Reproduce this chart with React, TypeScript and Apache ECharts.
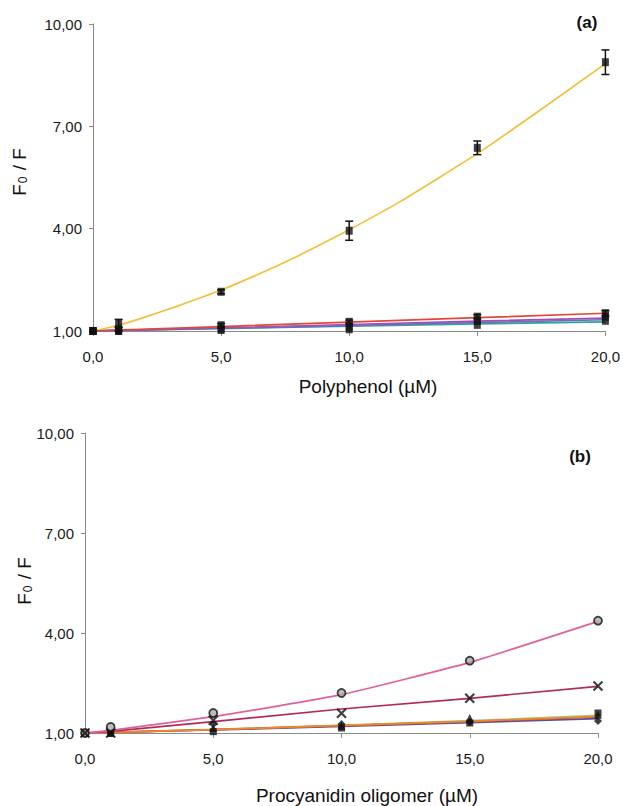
import React, { useEffect, useRef } from "react";
import * as echarts from "echarts";

const xValues = [0, 1, 5, 10, 15, 20];
const yTicks = [1, 4, 7, 10];

// Panel (a)
const aYellowPts = [1.0, 1.22, 2.15, 3.94, 6.37, 8.88];
const aYellowErr = [0.03, 0.12, 0.06, 0.28, 0.2, 0.36];
const aYellowFitX = [0, 1, 2, 3.3, 5, 6.5, 8, 10, 12, 15, 17.5, 20];
const aYellowFitY = [1.0, 1.17, 1.4, 1.73, 2.2, 2.68, 3.2, 3.97, 4.8, 6.2, 7.5, 8.84];
const aRedFit = [1.0, 1.03, 1.13, 1.26, 1.39, 1.52];
const aPurpleFit = [1.0, 1.02, 1.09, 1.19, 1.29, 1.38];
const aBlueFit = [1.0, 1.02, 1.08, 1.16, 1.25, 1.33];
const aGreenFit = [1.0, 1.02, 1.07, 1.14, 1.21, 1.27];
const aLowPts1 = [1.0, 1.05, 1.17, 1.27, 1.42, 1.52];
const aLowPts2 = [1.0, 1.0, 1.07, 1.12, 1.3, 1.42];
const aLowPts3 = [1.0, 1.0, 1.03, 1.05, 1.18, 1.3];
const aLowErr = [0.02, 0.06, 0.05, 0.05, 0.06, 0.08];

// Panel (b)
const bPinkPts = [1.0, 1.18, 1.6, 2.2, 3.17, 4.37];
const bPinkFit = [1.0, 1.08, 1.49, 2.15, 3.12, 4.35];
const bCrimsonPts = [1.0, 1.0, 1.38, 1.59, 2.04, 2.41];
const bCrimsonFit = [1.0, 1.05, 1.34, 1.72, 2.04, 2.4];
const bOrangeFit = [1.0, 1.02, 1.1, 1.23, 1.35, 1.5];
const bRedFit = [1.0, 1.02, 1.1, 1.22, 1.34, 1.48];
const bBlueFit = [1.0, 1.02, 1.09, 1.2, 1.31, 1.43];
const bGreenFit = [1.0, 1.02, 1.11, 1.23, 1.37, 1.53];
const bTrianglePts = [1.0, 1.0, 1.15, 1.22, 1.45, 1.55];
const bSquarePts = [1.0, 1.0, 1.04, 1.15, 1.3, 1.6];
const bDiamondPts = [1.0, 1.0, 1.26, 1.27, 1.33, 1.36];

const pair = (ys: number[], xs: number[] = xValues) => xs.map((x, i) => [x, ys[i]]);

const fmtY = (v: number) => v.toFixed(2).replace(".", ",");
const fmtX = (v: number) => v.toFixed(1).replace(".", ",");

const FONT = "Liberation Sans, Arial, sans-serif";
const axisColor = "#8a8a8a";
const labelStyle = { color: "#1a1a1a", fontSize: 15, fontFamily: FONT };

function lineSeries(data: number[][], color: string, grid: number, smooth: boolean | number = false) {
  return {
    type: "line",
    xAxisIndex: grid,
    yAxisIndex: grid,
    data,
    smooth,
    showSymbol: false,
    symbol: "none",
    lineStyle: { color, width: 1.7 },
    z: 2,
  };
}

function pointSeries(ys: number[], grid: number, symbol: string, size: number | number[], extra: any = {}) {
  return {
    type: "scatter",
    xAxisIndex: grid,
    yAxisIndex: grid,
    data: pair(ys),
    symbol,
    symbolSize: size,
    itemStyle: { color: "#111", ...extra },
    z: 4,
  };
}

function errorSeries(ys: number[], errs: number[], grid: number) {
  return {
    type: "custom",
    xAxisIndex: grid,
    yAxisIndex: grid,
    data: xValues.map((x, i) => [x, ys[i] - errs[i], ys[i] + errs[i]]),
    renderItem: (params: any, api: any) => {
      const lo = api.coord([api.value(0), api.value(1)]);
      const hi = api.coord([api.value(0), api.value(2)]);
      const w = 4;
      const st = { stroke: "#111", lineWidth: 1.5 };
      return {
        type: "group",
        children: [
          { type: "line", shape: { x1: lo[0], y1: lo[1], x2: hi[0], y2: hi[1] }, style: st },
          { type: "line", shape: { x1: lo[0] - w, y1: lo[1], x2: lo[0] + w, y2: lo[1] }, style: st },
          { type: "line", shape: { x1: hi[0] - w, y1: hi[1], x2: hi[0] + w, y2: hi[1] }, style: st },
        ],
      };
    },
    z: 5,
  };
}

function xAxis(grid: number) {
  return {
    type: "value",
    gridIndex: grid,
    min: 0,
    max: 20,
    interval: 5,
    axisLine: { lineStyle: { color: axisColor, width: 1 } },
    axisTick: { show: true, length: 5, lineStyle: { color: axisColor } },
    axisLabel: { ...labelStyle, margin: 18, formatter: fmtX },
    splitLine: { show: false },
  };
}

function yAxis(grid: number) {
  return {
    type: "value",
    gridIndex: grid,
    min: yTicks[0],
    max: yTicks[yTicks.length - 1],
    interval: 3,
    axisLine: { show: true, lineStyle: { color: axisColor, width: 1 } },
    axisTick: { show: true, length: 4, lineStyle: { color: axisColor } },
    axisLabel: { ...labelStyle, margin: 11, formatter: fmtY },
    splitLine: { show: false },
  };
}

const titleRich = {
  a: { fontSize: 19, fontFamily: FONT, fill: "#111" },
  s: { fontSize: 12, fontFamily: FONT, fill: "#111", padding: [7, 1, 0, 1] },
};

function yTitle(x: number, y: number) {
  return {
    type: "text",
    x,
    y,
    rotation: Math.PI / 2,
    style: { text: "{a|F}{s|0}{a| / F}", rich: titleRich, align: "center", verticalAlign: "middle" },
  };
}

function plainText(x: number, y: number, text: string, size: number, bold = false) {
  return {
    type: "text",
    x,
    y,
    style: {
      text,
      fontSize: size,
      fontWeight: bold ? "bold" : "normal",
      fill: "#111",
      fontFamily: FONT,
      align: "center",
      verticalAlign: "middle",
    },
  };
}

export default function App() {
  const ref = useRef<HTMLDivElement>(null);
  useEffect(() => {
    document.body.style.margin = "0";
    const chart = echarts.init(ref.current!, null, { renderer: "svg" });
    const circleStyle = { color: "#aaa", borderColor: "#111", borderWidth: 1.8 };
    const crossPath = "path://M0,0L10,10M10,0L0,10";
    chart.setOption({
      animation: false,
      backgroundColor: "#fff",
      grid: [
        { left: 93, top: 24, width: 514, height: 307 },
        { left: 85, top: 433, width: 513, height: 300 },
      ],
      xAxis: [xAxis(0), xAxis(1)],
      yAxis: [yAxis(0), yAxis(1)],
      graphic: [
        yTitle(19, 172),
        yTitle(24, 581),
        plainText(368, 386, "Polyphenol (µM)", 19),
        plainText(367, 795, "Procyanidin oligomer (µM)", 19),
        plainText(587, 22, "(a)", 17, true),
        plainText(580, 456, "(b)", 17, true),
      ],
      series: [
        // panel a
        lineSeries(pair(aYellowFitY, aYellowFitX), "#F0C23C", 0, 0.15),
        lineSeries(pair(aGreenFit), "#2BA88C", 0),
        lineSeries(pair(aBlueFit), "#6A6FC0", 0),
        lineSeries(pair(aPurpleFit), "#A050B8", 0),
        lineSeries(pair(aRedFit), "#E0483A", 0),
        errorSeries(aYellowPts, aYellowErr, 0),
        errorSeries(aLowPts1, aLowErr, 0),
        pointSeries(aYellowPts, 0, "rect", [7, 8]),
        pointSeries(aLowPts1, 0, "rect", [7, 8]),
        pointSeries(aLowPts2, 0, "rect", [7, 8]),
        pointSeries(aLowPts3, 0, "rect", [7, 8]),
        // panel b
        lineSeries(pair(bBlueFit), "#4A55A8", 1),
        lineSeries(pair(bGreenFit), "#9CCB8A", 1),
        lineSeries(pair(bRedFit), "#D83A3A", 1),
        lineSeries(pair(bOrangeFit), "#F08A24", 1),
        lineSeries(pair(bCrimsonFit), "#B02A5C", 1),
        lineSeries(pair(bPinkFit), "#E0609C", 1, 0.15),
        pointSeries(bSquarePts, 1, "rect", 7),
        pointSeries(bTrianglePts, 1, "triangle", 8),
        pointSeries(bDiamondPts, 1, "diamond", 8),
        pointSeries(bPinkPts, 1, "circle", 8, circleStyle),
        pointSeries(bCrimsonPts, 1, crossPath, 9, { color: "none", borderColor: "#111", borderWidth: 2.2 }),
      ],
    });
    return () => chart.dispose();
  }, []);
  return <div ref={ref} style={{ width: 623, height: 806 }} />;
}
